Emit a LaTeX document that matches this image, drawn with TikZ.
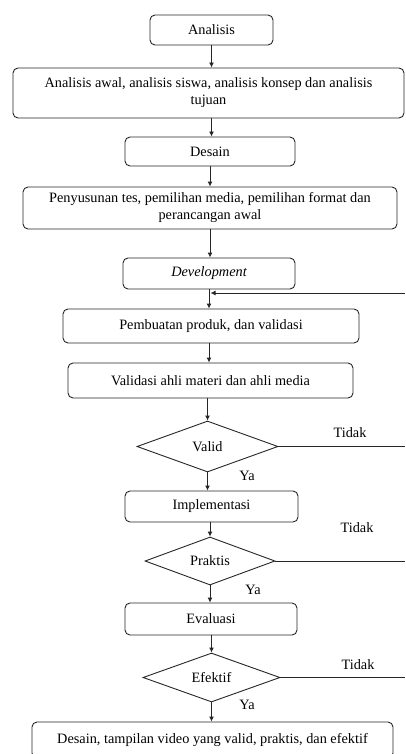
\documentclass[tikz,border=0pt]{standalone}
\usepackage{fontspec}
\setmainfont{Liberation Serif}
\usetikzlibrary{arrows.meta,shapes.geometric}

\begin{document}
\begin{tikzpicture}[x=1pt,y=-1pt, -{Latex[length=5pt,width=5pt]}, line width=0.9pt, color=black!85,
      every node/.append style={font=\fontsize{14.3}{17}\selectfont, text=black, align=center},
      box/.style={draw, rounded corners=5pt, inner sep=0pt},
      check/.style={draw, diamond, aspect=2.8, inner sep=0pt},
      answer/.style={inner sep=0pt}]
	  \useasboundingbox (0,0) rectangle (405,754);
	  % process steps
	  \node (analisis) [box, minimum width=123, minimum height=30] at (211.5,30) {Analisis};
	  \node (awal) [box, minimum width=391, minimum height=50] at (208.5,93)
	    {Analisis awal, analisis siswa, analisis konsep dan analisis\\tujuan};
	  \node (desain) [box, minimum width=170, minimum height=29] at (210,151.5) {Desain};
	  \node (susun) [box, minimum width=374, minimum height=42] at (210,208)
	    {Penyusunan tes, pemilihan media, pemilihan format dan\\perancangan awal};
	  \node (develop) [box, minimum width=172, minimum height=31] at (209,273.5) {\itshape Development};
	  \node (buat) [box, minimum width=296, minimum height=34] at (211,326) {Pembuatan produk, dan validasi};
	  \node (ahli) [box, minimum width=285, minimum height=35] at (210.5,380.5) {Validasi ahli materi dan ahli media};
	  \node (valid) [check, minimum width=141, minimum height=51] at (207.5,446.5) {Valid};
	  \node (implement) [box, minimum width=173, minimum height=31] at (211.5,506.5) {Implementasi};
	  \node (praktis) [check, minimum width=130, minimum height=48] at (210,561) {Praktis};
	  \node (evaluasi) [box, minimum width=172, minimum height=32] at (211,619) {Evaluasi};
	  \node (efektif) [check, minimum width=137, minimum height=49] at (211.5,677.5) {Efektif};
	  \node (hasil) [box, minimum width=361, minimum height=36] at (212.5,740)
	    {Desain, tampilan video yang valid, praktis, dan efektif};
	  % labels
	  \node (tidak_1) [answer] at (350,433) {Tidak};
	  \node (tidak_2) [answer] at (357,528) {Tidak};
	  \node (tidak_3) [answer] at (358,665) {Tidak};
	  \node (ya_1) [answer] at (247,476) {Ya};
	  \node (ya_2) [answer] at (253,590) {Ya};
	  \node (ya_3) [answer] at (247,705) {Ya};
	  \coordinate (back) at (405,293);
	  % main flow
	  \draw (analisis) -- (analisis |- awal.north);
	  \draw (awal.south -| analisis) -- (analisis |- desain.north);
	  \draw (desain) -- (desain |- susun.north);
	  \draw (susun.south -| desain) -- (desain |- develop.north);
	  \draw (develop) -- (develop |- buat.north);
	  \draw (buat.south -| develop) -- (develop |- ahli.north);
	  \draw (ahli.south -| valid) -- (valid.north);
	  \draw (valid) -- (valid |- implement.north);
	  \draw (implement.south -| praktis) -- (praktis.north);
	  \draw (praktis) -- (praktis |- evaluasi.north);
	  \draw (evaluasi.south -| efektif) -- (efektif.north);
	  \draw (efektif) -- (efektif |- hasil.north);
	  % back to development
	  \draw (back) -- ([xshift=1.5pt]develop.south |- back);
	  \draw[-] (valid.east) -- (valid.east -| back);
	  \draw[-] (praktis.east) -- (praktis.east -| back);
	  \draw[-] (efektif.east) -- (efektif.east -| back);
	\end{tikzpicture}
\end{document}
